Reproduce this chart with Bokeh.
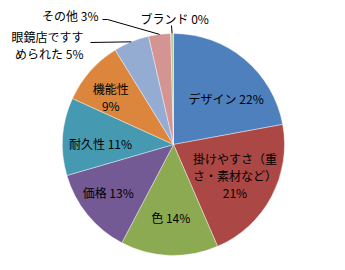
import math
from bokeh.plotting import figure
from bokeh.models import Range1d, ColumnDataSource
from bokeh.core.properties import value
from bokeh.embed import file_html
from bokeh.resources import INLINE

# ---- data ----
categories = ["デザイン", "掛けやすさ（重さ・素材など）", "色", "価格", "耐久性",
              "機能性", "眼鏡店ですすめられた", "その他", "ブランド"]
values = [22.1, 21.4, 14.2, 12.8, 11.3, 9.4, 5.2, 3.2, 0.4]
colors = ["#4E80BD", "#AB4744", "#8CAA52", "#745A95", "#4599B0",
          "#DC853C", "#94ABD2", "#D39492", "#BACE95"]

# ---- layout ----
W, H = 345, 270
CX, CY, R = 173, H - 144, 111
FONT = "Noto Sans CJK JP"
FS = "12px"
LINE_GAP = 17

p = figure(width=W, height=H, output_backend="svg", toolbar_location=None,
           x_range=Range1d(0, W), y_range=Range1d(0, H), min_border=0)
p.axis.visible = False
p.grid.visible = False
p.outline_line_color = None

total = sum(values)
starts, ends, mids = [], [], []
acc = 0.0
for v in values:
    a0 = acc / total * 360.0
    acc += v
    a1 = acc / total * 360.0
    starts.append(math.radians(90 - a0))
    ends.append(math.radians(90 - a1))
    mids.append((a0 + a1) / 2)

src = ColumnDataSource(dict(x=[CX] * len(values), y=[CY] * len(values),
                            start=starts, end=ends, color=colors))
p.wedge(x="x", y="y", radius=R, start_angle="start", end_angle="end",
        direction="clock", fill_color="color", line_color="white",
        line_alpha=0.5, line_width=0.8, source=src)

def pct(v):
    return f"{v:.0f}%"

def pol(theta_deg, r):
    t = math.radians(theta_deg)
    return CX + r * math.sin(t), CY + r * math.cos(t)

def draw_lines(lines, x, y, align):
    n = len(lines)
    xs, ys = [], []
    for k, ln in enumerate(lines):
        xs.append(x)
        ys.append(y + (n - 1) / 2 * LINE_GAP - k * LINE_GAP)
    p.text(x=xs, y=ys, text=lines, text_font=value(FONT), text_font_size=FS,
           text_align=align, text_baseline="middle", text_color="black")

# inside labels: (angle offset from mid, radius, line break index)
inside = {
    0: (9, 70, None),
    1: (-1, 69, 7),
    2: (0, 73, None),
    3: (3, 81, None),
    4: (-3, 73, None),
    5: (-4, 79, 3),
}
for i, (da, r, brk) in inside.items():
    name = categories[i]
    if brk is None:
        lines = [f"{name} {pct(values[i])}"]
    else:
        lines = [s for s in (name[:brk], name[brk:]) if s] + [pct(values[i])]
    x, y = pol(mids[i] + da, r)
    draw_lines(lines, x, y, "center")

# outside labels with leader lines
outside = {
    6: dict(brk=6, tx=83, ty=H - 44, align="right", elbow=[(90, H - 42)]),
    7: dict(brk=None, tx=98, ty=H - 15, align="right", elbow=[(102, H - 19), (107, H - 19)]),
    8: dict(brk=None, tx=140, ty=H - 18, align="left", elbow=[(171, H - 25)]),
}
for i, o in outside.items():
    name = categories[i]
    if o["brk"] is None:
        lines = [f"{name} {pct(values[i])}"]
    else:
        lines = [name[:o["brk"]], name[o["brk"]:] + " " + pct(values[i])]
    draw_lines(lines, o["tx"], o["ty"], o["align"])
    ex, ey = pol(mids[i], R)
    xs = [pt[0] for pt in o["elbow"]] + [ex]
    ys = [pt[1] for pt in o["elbow"]] + [ey]
    p.line(xs, ys, line_color="black", line_width=1)

open("out.html", "w").write(file_html(p, INLINE))
